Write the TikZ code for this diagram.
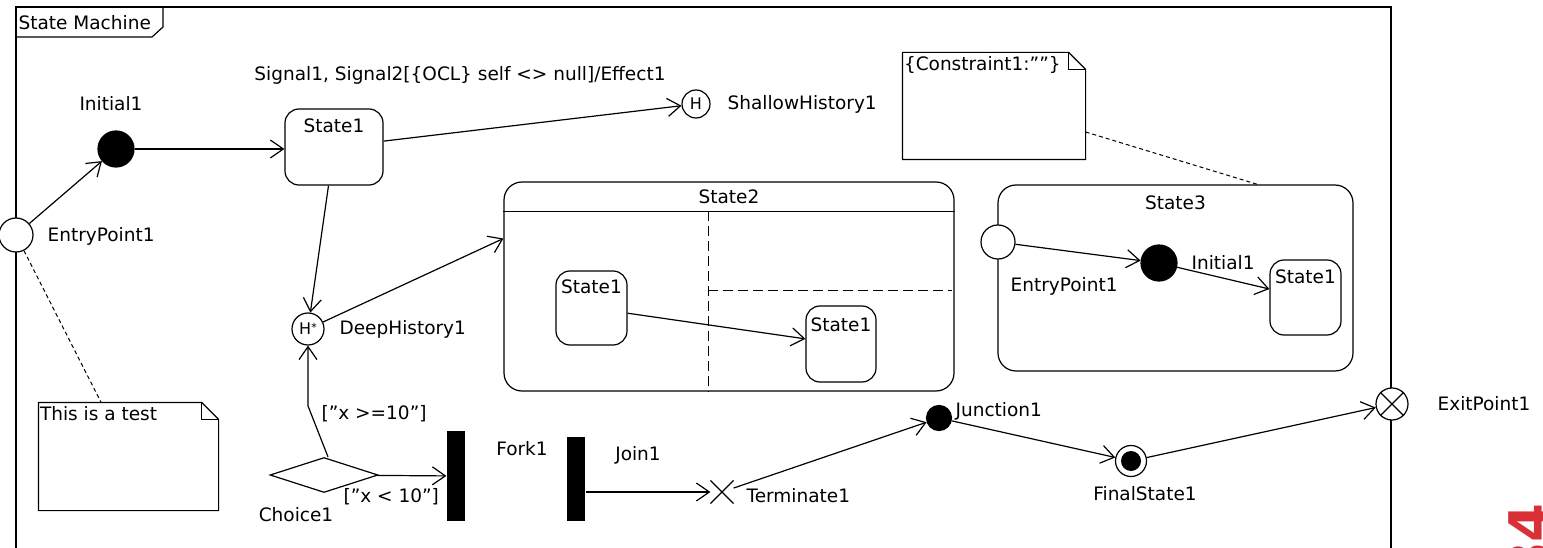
\documentclass[tikz,border=0pt]{standalone}
\usepackage{fontspec}
\setmainfont{DejaVu Sans}
\usetikzlibrary{arrows.meta,shapes.geometric,shapes.misc,calc}
\definecolor{wmred}{RGB}{217,48,56}

\begin{document}
\begin{tikzpicture}[x=1pt,y=-1pt,line width=1.2pt,
  every node/.style={font=\fontsize{18.5}{22}\selectfont},
  trans/.style={-{Straight Barb[length=13pt,width=18pt]}},
  simple/.style={draw, rounded corners=14pt, inner sep=0pt},
  txt/.style={inner sep=0pt},
  pseudo/.style={circle, draw, fill=white, inner sep=0pt},
  dot/.style={circle, draw, fill=black, inner sep=0pt, minimum size=36pt},
  bar/.style={fill=black, inner sep=0pt, minimum width=18pt},
  notebox/.style={inner sep=0pt},
  region/.style={dash pattern=on 10pt off 5pt},
  anchorline/.style={line width=1pt, dash pattern=on 4pt off 3pt}]

\useasboundingbox (0,0) rectangle (1543,548);
\clip (0,0) rectangle (1543,548);
\fill[white] (0,0) rectangle (1543,548);

% frame of the state machine
\draw (16,7) rectangle (1391,570);
\draw (16,37) -- (152,37) -- (163,27) -- (163,7);
\node[txt, anchor=west] (title) at (18,23) {State Machine};

% top level vertices
\node[pseudo, minimum size=34pt] (ep) at (16,235) {};
\node[txt, anchor=west] (epL) at (47,236) {EntryPoint1};
\node[dot] (ini) at (116,149) {};
\node[txt] (iniL) at (111,104) {Initial1};
\node[simple, minimum width=98pt, minimum height=76pt] (s1) at (334,147) {};
\node[txt] (s1L) at ([yshift=-17pt]s1.north) {State1};
\node[pseudo, minimum size=28pt, font=\fontsize{16}{16}\selectfont] (sh) at (696,104) {H};
\node[txt, anchor=west] (shL) at (727,104) {ShallowHistory1};
\node[txt] (sigL) at (460,75) {Signal1, Signal2[\{OCL\} self <> null]/Effect1};
\node[pseudo, minimum size=32pt, font=\fontsize{16}{16}\selectfont] (dh) at (308,329) {H\raisebox{3pt}{\fontsize{11}{11}\selectfont *}};
\node[txt, anchor=west] (dhL) at (339,329) {DeepHistory1};

% State2 with its regions
\node[simple, rounded corners=18pt, minimum width=450pt, minimum height=209pt] (s2) at (729,286.5) {};
\draw ([yshift=-30pt]s2.north west) -- ([yshift=-30pt]s2.north east);
\node[txt] (s2L) at ([yshift=-15pt]s2.north) {State2};
\draw[region] ([xshift=205pt,yshift=-30pt]s2.north west) -- ([xshift=205pt]s2.south west);
\draw[region] ($(s2.north west)+(205,109)$) -- ($(s2.north east)+(-3,109)$);
\node[simple, minimum width=71pt, minimum height=74pt] (s2a) at (591.5,308) {};
\node[txt] (s2aL) at ([yshift=-16pt]s2a.north) {State1};
\node[simple, minimum width=70pt, minimum height=76pt] (s2b) at (841,344) {};
\node[txt] (s2bL) at ([yshift=-19pt]s2b.north) {State1};
\draw[trans] (s2a) -- (s2b);

% State3 with its content
\node[simple, rounded corners=18pt, minimum width=355pt, minimum height=186pt] (s3) at (1175.5,278) {};
\node[txt] (s3L) at ([yshift=-18pt]s3.north) {State3};
\node[pseudo, minimum size=34pt] (ep2) at (998,242) {};
\node[txt, anchor=west] (ep2L) at (1010,286) {EntryPoint1};
\node[dot] (ini2) at (1159,263) {};
\node[txt, anchor=west] (ini2L) at (1191,263) {Initial1};
\node[simple, minimum width=71pt, minimum height=75pt] (s3a) at (1305.5,297.5) {};
\node[txt] (s3aL) at ([yshift=-17pt]s3a.north) {State1};
\draw[trans] (ep2) -- (ini2);
\draw[trans] (ini2) -- (s3a);

% notes
\node[notebox, minimum width=179pt, minimum height=107pt] (n1) at (128.5,456.5) {};
\draw (n1.north west) -- ([xshift=-17pt]n1.north east) -- ([yshift=-17pt]n1.north east) -- (n1.south east) -- (n1.south west) -- cycle;
\draw ([xshift=-17pt]n1.north east) -- ([xshift=-17pt,yshift=-17pt]n1.north east) -- ([yshift=-17pt]n1.north east);
\node[txt, anchor=north west] (n1T) at ([xshift=1pt,yshift=-3pt]n1.north west) {This is a test};

\node[notebox, minimum width=182pt, minimum height=106pt] (n2) at (994,106) {};
\draw (n2.north west) -- ([xshift=-17pt]n2.north east) -- ([yshift=-17pt]n2.north east) -- (n2.south east) -- (n2.south west) -- cycle;
\draw ([xshift=-17pt]n2.north east) -- ([xshift=-17pt,yshift=-17pt]n2.north east) -- ([yshift=-17pt]n2.north east);
\node[txt, anchor=north west] (n2T) at ([xshift=1pt,yshift=-3pt]n2.north west) {\{Constraint1:""\}};

\draw[anchorline] (ep) -- (n1);
\draw[anchorline] ([yshift=-26pt]n2.east) -- ([xshift=82pt]s3.north);

% lower vertices
\node[diamond, draw, fill=white, minimum width=108pt, minimum height=35pt, inner sep=0pt] (ch) at (324,475) {};
\node[txt] (chL) at (296,515) {Choice1};
\node[bar, minimum height=90pt] (fork) at (456,476) {};
\node[txt] (forkL) at (522,449) {Fork1};
\node[bar, minimum height=84pt] (join) at (576,479) {};
\node[txt] (joinL) at (638,455) {Join1};
\node[cross out, draw, minimum size=22pt, inner sep=0pt] (term) at (722,492) {};
\node[txt, anchor=west] (termL) at (746,496) {Terminate1};
\node[dot, minimum size=25pt] (jn) at (939,418) {};
\node[txt, anchor=west] (jnL) at (955,411) {Junction1};
\node[pseudo, minimum size=31pt, path picture={\fill[black] (path picture bounding box.center) circle (10pt);}] (fin) at (1131,461) {};
\node[txt] (finL) at (1145,494) {FinalState1};
\node[pseudo, minimum size=32pt] (ex) at (1392,404) {};
\draw (ex.north west) -- (ex.south east) (ex.north east) -- (ex.south west);
\node[txt, anchor=west] (exL) at (1437,404) {ExitPoint1};

% transitions
\draw[trans] (ep) -- (ini);
\draw[trans] (ini) -- (ini -| s1.west);
\draw[trans] (s1) -- (sh);
\draw[trans] (s1) -- (dh);
\draw[trans] (dh) -- ([yshift=48pt]s2.west);
\draw[trans] ([xshift=4pt]ch.north) -- ++(-20,-51) -- (dh);
\node[txt, anchor=west] (g1) at (321,414) {["x >=10"]};
\draw[trans] (ch) -- (fork);
\node[txt, anchor=west] (g2) at (343,497) {["x < 10"]};
\draw[trans] ([yshift=-13pt]join.east) -- (term);
\draw[trans] (term) -- (jn);
\draw[trans] (jn) -- (fin);
\draw[trans] (fin) -- (ex);

% stamp at the lower right edge
\node[rotate=90, anchor=base east, inner sep=0pt, text=wmred, font=\fontsize{56}{56}\selectfont\bfseries] (wm) at (1549,503) {84};
\end{tikzpicture}
\end{document}
